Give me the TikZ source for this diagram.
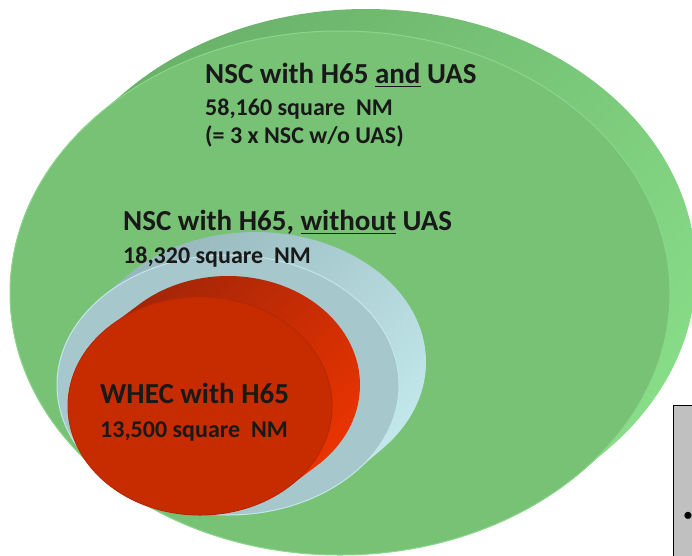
\documentclass[tikz,border=0pt]{standalone}
\usepackage{fontspec}
\setmainfont{Carlito}
\usepackage{tikz}
\usetikzlibrary{positioning}

\definecolor{greenface}{HTML}{78C276}
\definecolor{greendark}{HTML}{68AE68}
\definecolor{greenlight}{HTML}{8AE08A}
\definecolor{greenedge}{HTML}{8CD68C}
\definecolor{blueface}{HTML}{A6C8CD}
\definecolor{bluedark}{HTML}{92B3B8}
\definecolor{bluelight}{HTML}{C6ECEF}
\definecolor{blueedge}{HTML}{C4E6E9}
\definecolor{redface}{HTML}{C72C00}
\definecolor{reddark}{HTML}{9C2408}
\definecolor{redlight}{HTML}{F03500}
\definecolor{rededge}{HTML}{B82800}
\definecolor{boxgray}{HTML}{C0C0C0}

\newcommand\undr[1]{\setbox0\hbox{#1}\rlap{\rule[-4.3pt]{\wd0}{1.8pt}}\box0\relax}

\tikzset{
  headtext/.style={font=\bfseries\fontsize{29}{32}\selectfont, anchor=base west, inner sep=0pt, text=black!90},
  areatext/.style={font=\bfseries\fontsize{24}{28}\selectfont, anchor=base west, inner sep=0pt, text=black!90},
}

\begin{document}
\begin{tikzpicture}[x=1pt, y=-1pt]
  \clip (0,0) rectangle (692,555);

  % discs, back to front: side first, then the face
  \foreach \cx/\cy/\rx/\ry/\dx/\dy/\c in {340/293/330/262/26/-22/green,
                                          228/385/171/130/27/-23/blue,
                                          200/406/132/109/28/-21/red}{
    \pgfmathsetmacro\tang{atan(-\ry*\dx/(\rx*\dy))+180}
    \shade[top color=\c dark, bottom color=\c light, shading angle=45]
      ({\cx+\dx+\rx*cos(\tang)},{\cy+\dy+\ry*sin(\tang)})
        arc [start angle=\tang, end angle=\tang+180, x radius=\rx, y radius=\ry]
      -- ({\cx+\rx*cos(\tang+180)},{\cy+\ry*sin(\tang+180)})
        arc [start angle=\tang+180, end angle=\tang+360, x radius=\rx, y radius=\ry]
      -- cycle;
    \fill[\c face, draw=\c edge, line width=1pt] (\cx,\cy) ellipse [x radius=\rx, y radius=\ry];
  }

  % labels
  \node (uashead) [headtext] at (205,83) {NSC with H65 \undr{and} UAS};
  \node (uasarea) [areatext] at (205,115) {58,160 square\ \ NM};
  \node (uasnote) [areatext] at (205,143) {(= 3 x NSC w/o UAS)};

  \node (nschead) [headtext] at (123,230) {NSC with H65, \undr{without} UAS};
  \node (nscarea) [areatext] at (123,263) {18,320 square\ \ NM};

  \node (whechead) [headtext] at (100,403) {WHEC with H65};
  \node (whecarea) [areatext] at (100,437) {13,500 square\ \ NM};

  % box at the edge
  \node (sidebox) [draw, line width=1pt, fill=boxgray, anchor=north west,
                   minimum width=40pt, minimum height=170pt] at (673,405) {};
  \node (sidedot) [font=\fontsize{20}{20}\selectfont, inner sep=0pt] at (688,517) {\textbullet};
\end{tikzpicture}
\end{document}
